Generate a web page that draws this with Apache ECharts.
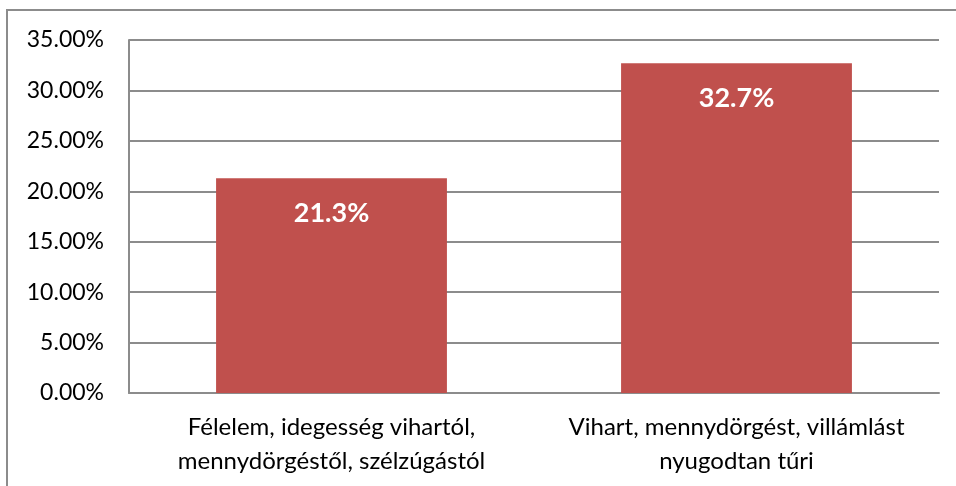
<!DOCTYPE html>
<html>
<head>
<meta charset="utf-8">
<script src="https://cdn.jsdelivr.net/npm/echarts@6/dist/echarts.min.js"></script>
<style>
  html, body { margin: 0; padding: 0; background: #fff; }
  #chart { width: 956px; height: 486px; }
</style>
</head>
<body>
<div id="chart"></div>
<script>
    // categories and shares
    var categories = [
        'Félelem, idegesség vihartól,\nmennydörgéstől, szélzúgástól',
        'Vihart, mennydörgést, villámlást\nnyugodtan tűri'
    ];
    var shares = [0.213, 0.327];

    var font = 'Lato, "Open Sans", sans-serif';

    var option = {
        backgroundColor: '#fff',
        animation: false,
        graphic: [{
            type: 'rect',
            shape: { x: 7, y: 10, width: 980, height: 500 },
            style: { fill: 'none', stroke: '#8c8c8c', lineWidth: 2 },
            silent: true
        }],
        grid: { left: 129, right: 17, top: 40, bottom: 93 },
        xAxis: {
            type: 'category',
            data: categories,
            axisTick: { show: false },
            axisLine: { lineStyle: { color: '#8c8c8c', width: 2 } },
            axisLabel: {
                interval: 0,
                hideOverlap: false,
                color: '#000',
                fontFamily: font,
                fontSize: 24,
                lineHeight: 34,
                margin: 17
            }
        },
        yAxis: {
            type: 'value',
            min: 0,
            max: 0.35,
            interval: 0.05,
            axisLine: { show: true, lineStyle: { color: '#8c8c8c', width: 2 } },
            axisTick: { show: false },
            splitLine: { lineStyle: { color: '#8c8c8c', width: 2 } },
            axisLabel: {
                color: '#000',
                fontFamily: font,
                fontSize: 23,
                margin: 25,
                formatter: function (v) { return (v * 100).toFixed(2) + '%'; }
            }
        },
        series: [{
            type: 'bar',
            data: shares,
            barWidth: '57%',
            itemStyle: { color: '#c0504d' },
            label: {
                show: true,
                position: 'insideTop',
                distance: 22,
                color: '#fff',
                fontFamily: font,
                fontWeight: 'bold',
                fontSize: 27,
                formatter: function (p) { return (p.value * 100).toFixed(1) + '%'; }
            }
        }]
    };

    var chart = echarts.init(document.getElementById('chart'));
    chart.setOption(option);
</script>
</body>
</html>
